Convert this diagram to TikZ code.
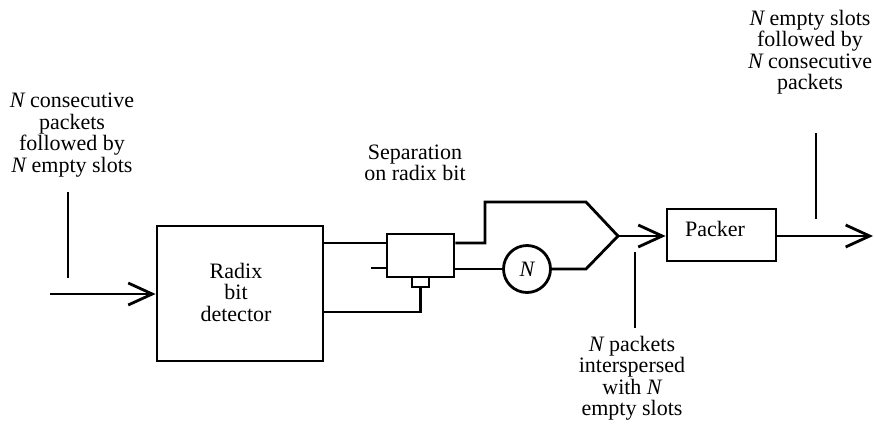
\documentclass[tikz,border=0pt]{standalone}
\usepackage{fontspec}
\setmainfont{Liberation Serif}
\usetikzlibrary{arrows.meta,calc}
\begin{document}
\begin{tikzpicture}[x=1pt,y=-1pt,
  line width=2.8pt,
  every node/.style={font=\fontsize{22}{21.5}\selectfont},
  blk/.style={draw,rectangle,minimum width=0pt,minimum height=0pt,inner sep=0pt},
  lbl/.style={align=center,inner sep=0pt},
  arr/.style={-{Straight Barb[length=24pt,width=22pt,line width=2.8pt]}}]
\useasboundingbox (0,0) rectangle (874,426);
% blocks
\node[blk,minimum width=166pt,minimum height=135pt] (radix) at (240,293.5) {};
\node[lbl] (radixtxt) at (236,292) {Radix\\bit\\detector};
\node[blk,minimum width=67pt,minimum height=43pt] (sep) at (420.5,255.5) {};
\node[blk,minimum width=17pt,minimum height=10pt] (tab) at (420.5,282) {};
\node[draw,circle,minimum size=47pt,inner sep=0pt] (delay) at (527,269) {\itshape N};
\node[blk,minimum width=109pt,minimum height=52pt] (packer) at (721.5,235) {};
\node[lbl] (packertxt) at (715,229) {Packer};
% coordinates
\coordinate (in) at (50,294);
\coordinate (stub) at (371,268);
\coordinate (up1) at (485,243);
\coordinate (up2) at (485,202);
\coordinate (up3) at (586,202);
\coordinate (lo3) at (586,269);
\coordinate (merge) at (618,236);
\coordinate (out) at (873,236);
% connectors
\draw[arr] (in) -- (radix.west |- in);
\draw (radix.east |- 0,243) -- (sep.west |- 0,243);
\draw (stub) -- (sep.west |- stub);
\draw (tab.south) |- (radix.east |- 0,312);
\draw (sep.east |- up1) -- (up1) -- (up2) -- (up3) -- (merge);
\draw (sep.east |- delay) -- (delay.west);
\draw (delay.east) -- (lo3) -- (merge);
\draw[arr] (merge) -- (packer.west |- merge);
\draw[arr] (packer.east |- out) -- (out);
% label ticks
\coordinate (t1a) at (68,192); \coordinate (t1b) at (68,278);
\coordinate (t2a) at (635,252); \coordinate (t2b) at (635,328);
\coordinate (t3a) at (816,133); \coordinate (t3b) at (816,219);
\draw (t1a) -- (t1b);
\draw (t2a) -- (t2b);
\draw (t3a) -- (t3b);
% labels
\node[lbl] (lin) at (72,135) {\itshape N\upshape{} consecutive\\packets\\followed by\\\itshape N\upshape{} empty slots};
\node[lbl] (lsep) at (415,163) {Separation\\on radix bit};
\node[lbl] (lmid) at (632,378) {\itshape N\upshape{} packets\\interspersed\\with \itshape N\\empty slots};
\node[lbl] (lout) at (810,52) {\itshape N\upshape{} empty slots\\followed by\\\itshape N\upshape{} consecutive\\packets};
\end{tikzpicture}
\end{document}
